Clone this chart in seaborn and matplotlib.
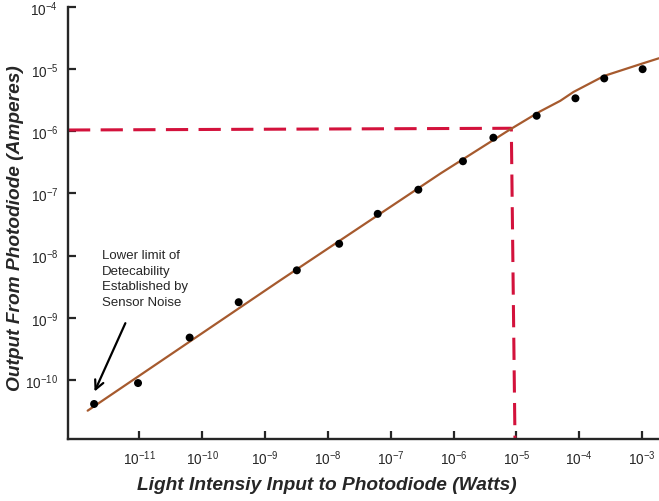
import numpy as np
import pandas as pd
import matplotlib
matplotlib.use("Agg")
import matplotlib.pyplot as plt
import seaborn as sns

# measured points (watts in, amperes out)
watts = [1.9e-12, 9.5e-12, 6.3e-11, 3.8e-10, 3.2e-9, 1.51e-8, 6.2e-8,
         2.75e-7, 1.41e-6, 4.3e-6, 2.1e-5, 8.7e-5, 2.5e-4, 1.02e-3]
amps = [4.1e-11, 8.9e-11, 4.8e-10, 1.78e-9, 5.8e-9, 1.55e-8, 4.7e-8,
        1.15e-7, 3.3e-7, 7.9e-7, 1.78e-6, 3.4e-6, 7.1e-6, 1.0e-5]

# response curve
curve_watts = [1.5e-12, 1.74e-9, 6.2e-7, 7.9e-6, 2.4e-5, 5.0e-5, 8.1e-5,
               2.5e-4, 9.3e-4, 1.86e-3]
curve_amps = [3.2e-11, 4.0e-9, 2.1e-7, 1.07e-6, 2.1e-6, 3.1e-6, 4.3e-6,
              7.8e-6, 1.2e-5, 1.5e-5]

# dashed saturation guide
limit_watts = [7.3e-13, 8.3e-6, 9.5e-6]
limit_amps = [1.05e-6, 1.12e-6, 1.0e-11]

x_ticks = [1e-11, 1e-10, 1e-9, 1e-8, 1e-7, 1e-6, 1e-5, 1e-4, 1e-3]
x_labels = ['$10^{-11}$', '$10^{-10}$', '$10^{-9}$', '$10^{-8}$', '$10^{-7}$',
            '$10^{-6}$', '$10^{-5}$', '$10^{-4}$', '$10^{-3}$']
y_ticks = [1e-10, 1e-9, 1e-8, 1e-7, 1e-6, 1e-5, 1e-4]
y_labels = ['$10^{-10}$', '$10^{-9}$', '$10^{-8}$', '$10^{-7}$', '$10^{-6}$',
            '$10^{-5}$', '$10^{-4}$']

note = "Lower limit of\nDetecability\nEstablished by\nSensor Noise"

sns.set_style("ticks")
plt.rcParams['font.family'] = ['Liberation Sans', 'DejaVu Sans']
plt.rcParams['mathtext.default'] = 'regular'
plt.rcParams['lines.scale_dashes'] = False

points = pd.DataFrame({'watts': watts, 'amps': amps})
curve = pd.DataFrame({'watts': curve_watts, 'amps': curve_amps})
limit = pd.DataFrame({'watts': limit_watts, 'amps': limit_amps})

fig = plt.figure(figsize=(6.59, 5.02), dpi=100)
ax = fig.add_axes([0.1032, 0.1235, 0.8968, 0.8605])
ax.set_xscale('log')
ax.set_yscale('log')

ax.plot(limit['watts'], limit['amps'], color='#d3123c', lw=2.2,
        dashes=(16, 7.5), zorder=2)
sns.lineplot(data=curve, x='watts', y='amps', color='#a65a2e', lw=1.6,
             sort=False, ax=ax, zorder=3)
sns.scatterplot(data=points, x='watts', y='amps', color='black', s=33,
                edgecolor='none', ax=ax, zorder=4)

ax.set_xlim(7.3e-13, 1.86e-3)
ax.set_ylim(1.12e-11, 1e-4)
ax.minorticks_off()
ax.set_xticks(x_ticks)
ax.set_xticklabels(x_labels)
ax.set_yticks(y_ticks)
ax.set_yticklabels(y_labels)
ax.tick_params(axis='both', direction='in', length=6, width=1.6,
               labelsize=9.8, pad=7)

for side in ['top', 'right']:
    ax.spines[side].set_visible(False)
for side in ['left', 'bottom']:
    ax.spines[side].set_linewidth(1.7)

ax.set_xlabel("Light Intensiy Input to Photodiode (Watts)", fontsize=13.8,
              fontweight='bold', fontstyle='italic')
ax.set_ylabel("Output From Photodiode (Amperes)", fontsize=13.8,
              fontweight='bold', fontstyle='italic')
ax.xaxis.set_label_coords(0.438, -0.085)
ax.yaxis.set_label_coords(-0.075, 0.49)

ax.text(0.057, 0.44, note, transform=ax.transAxes, fontsize=9.5,
        ha='left', va='top', linespacing=1.42)
ax.annotate('', xy=(0.043, 0.104), xytext=(0.099, 0.274),
            xycoords='axes fraction', textcoords='axes fraction',
            arrowprops=dict(arrowstyle='->', color='black', lw=1.6,
                            mutation_scale=16))

fig.savefig('out.png', dpi=100)
